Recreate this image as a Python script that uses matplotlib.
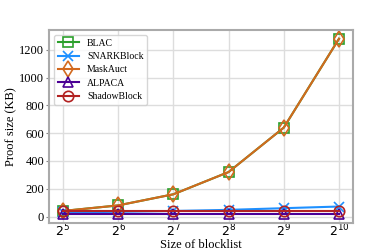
import matplotlib
matplotlib.use("Agg")
import matplotlib.pyplot as plt

plt.rcParams['font.family'] = ['Liberation Serif', 'DejaVu Serif']

sizes = [2**5, 2**6, 2**7, 2**8, 2**9, 2**10]
tick_labels = ['$2^{5}$', '$2^{6}$', '$2^{7}$', '$2^{8}$', '$2^{9}$', '$2^{10}$']

blac = [40, 80, 160, 320, 640, 1280]
snarkblock = [30, 34, 40, 48, 60, 72]
maskauct = [40, 80, 160, 320, 640, 1280]
alpaca = [20, 20, 20, 20, 20, 20]
shadowblock = [42, 42, 42, 42, 42, 42]

fig = plt.figure(figsize=(3.92, 2.5), dpi=100)
ax = fig.add_subplot(111)

ax.plot(sizes, blac, label="BLAC", color="#2ca02c", marker="s", ms=7.5, mfc="none", mew=1.2, lw=1.5)
ax.plot(sizes, snarkblock, label="SNARKBlock", color="#1e90ff", marker="x", ms=7.5, mew=1.2, lw=1.5)
ax.plot(sizes, maskauct, label="MaskAuct", color="#d2691e", marker="d", ms=8.5, mfc="none", mew=1.2, lw=1.5)
ax.plot(sizes, alpaca, label="ALPACA", color="#4b0095", marker="^", ms=7.5, mfc="none", mew=1.2, lw=1.5)
ax.plot(sizes, shadowblock, label="ShadowBlock", color="#b22222", marker="o", ms=7.5, mfc="none", mew=1.2, lw=1.5)

ax.set_xscale('log', base=2)
ax.set_xticks(sizes)
ax.set_xticklabels(tick_labels, fontsize=9, family='DejaVu Sans')
ax.minorticks_off()
ax.tick_params(axis='y', labelsize=9, color='#888888', length=2.5, pad=1)
ax.tick_params(axis='x', color='#888888', length=0, pad=0)

for s in ax.spines.values():
    s.set_color('#aaaaaa')
    s.set_linewidth(1.5)

ax.grid(True, color='#dddddd', lw=1)
ax.set_axisbelow(True)

ax.set_xlabel("Size of blocklist", fontsize=9)
ax.xaxis.set_label_coords(0.5, -0.085)
ax.set_ylabel("Proof size (KB)", fontsize=9, labelpad=1)
ax.legend(loc='upper left', fontsize=7, handlelength=2.2, handletextpad=0.8,
          labelspacing=0.45, borderpad=0.4)

plt.savefig('out.png', format='png')
